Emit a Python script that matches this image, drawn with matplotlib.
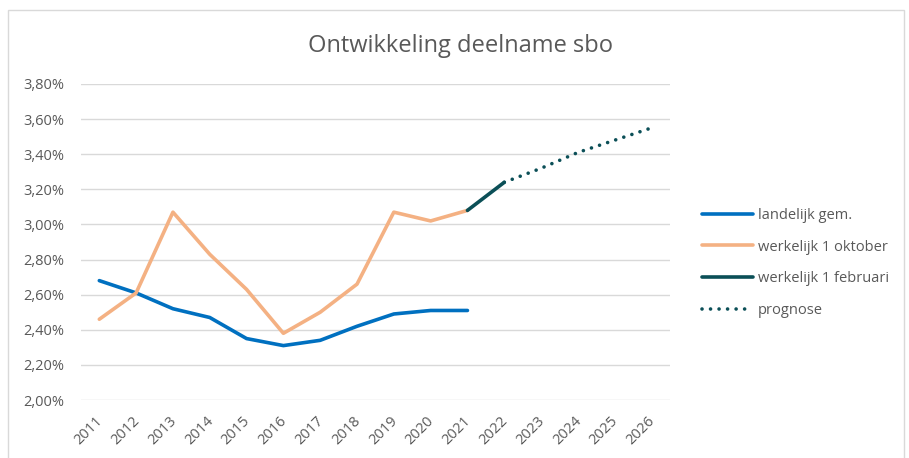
import matplotlib
matplotlib.use("Agg")
import matplotlib.pyplot as plt
from matplotlib.patches import Rectangle
from matplotlib.ticker import FuncFormatter
from matplotlib.transforms import ScaledTranslation

years = [str(y) for y in range(2011, 2027)]
landelijk = [2.68, 2.61, 2.52, 2.47, 2.35, 2.31, 2.34, 2.42, 2.49, 2.51, 2.51]
oktober = [2.46, 2.61, 3.07, 2.83, 2.63, 2.38, 2.50, 2.66, 3.07, 3.02, 3.08]
februari = [3.08, 3.24]          # 2021 - 2022
prognose = [3.24, 3.32, 3.41, 3.48, 3.55]  # 2022 - 2026
y_ticks = [2.0, 2.2, 2.4, 2.6, 2.8, 3.0, 3.2, 3.4, 3.6, 3.8]

plt.rcParams['font.family'] = ['Open Sans', 'DejaVu Sans']
grey = "#595959"

fig = plt.figure(figsize=(9.09, 4.58), dpi=100)
ax = fig.add_axes([0.089, 0.1266, 0.648, 0.69])

x = list(range(len(years)))
ax.plot(x[:len(landelijk)], landelijk, color="#0070C0", lw=2.6,
        solid_capstyle="round", label="landelijk gem.")
ax.plot(x[:len(oktober)], oktober, color="#F4B183", lw=2.6,
        solid_capstyle="round", label="werkelijk 1 oktober")
ax.plot(x[10:12], februari, color="#0B4F57", lw=2.6,
        solid_capstyle="round", label="werkelijk 1 februari")
ax.plot(x[11:], prognose, color="#0B4F57", lw=2.6,
        linestyle=(0, (0.01, 2.35)), dash_capstyle="round", label="prognose")

ax.set_xlim(-0.5, len(years) - 0.5)
ax.set_ylim(2.0, 3.8)
ax.set_yticks(y_ticks)
ax.yaxis.set_major_formatter(FuncFormatter(lambda v, p: f"{v:.2f}%".replace(".", ",")))
ax.set_xticks(x)
ax.set_xticklabels(years, rotation=45, ha="right", rotation_mode="anchor")
ax.grid(axis="y", color="#D9D9D9", lw=1)
ax.set_axisbelow(True)
for s in ax.spines.values():
    s.set_visible(False)
ax.tick_params(length=0, colors=grey, labelsize=10.5)
ax.tick_params(axis="y", pad=12)
ax.tick_params(axis="x", pad=10)
shift = ScaledTranslation(-4 / 100, 0, fig.dpi_scale_trans)
for lbl in ax.get_xticklabels():
    lbl.set_transform(lbl.get_transform() + shift)

fig.text(461 / 909, 1 - 46 / 458, "Ontwikkeling deelname sbo",
         ha="center", va="center", fontsize=17, color=grey)

fig.legend(loc="center left", bbox_to_anchor=(0.758, 0.426), frameon=False,
           fontsize=10.5, labelcolor=grey, handlelength=3.5, handletextpad=0.3,
           labelspacing=1.15)

fig.patches.append(Rectangle((8 / 909, -0.1), 896 / 909, 1.1 - 10 / 458,
                             transform=fig.transFigure, fill=False,
                             edgecolor="#D9D9D9", lw=1))

fig.savefig("out.png", dpi=100)
